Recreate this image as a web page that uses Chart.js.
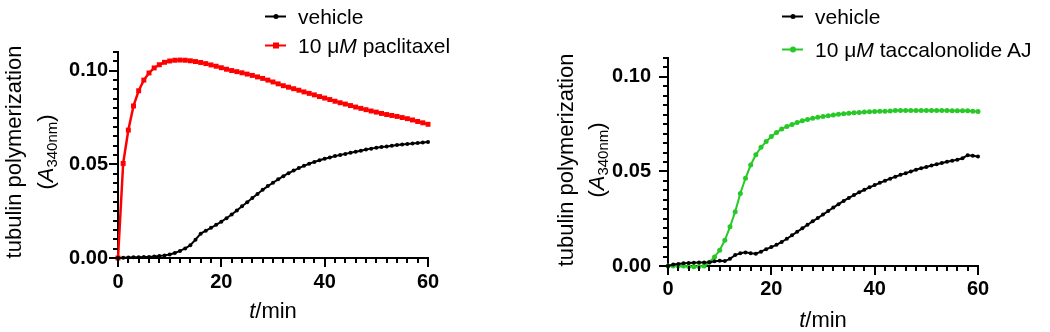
<!DOCTYPE html>
<html>
<head>
<meta charset="utf-8">
<script src="https://cdn.jsdelivr.net/npm/chart.js@4.4.1/dist/chart.umd.min.js"></script>
<style>
  html, body { margin: 0; padding: 0; background: #fff; }
  body { width: 1050px; height: 332px; position: relative; overflow: hidden;
         font-family: 'Liberation Sans', Arial, sans-serif; color: #000; }
  canvas { position: absolute; top: 0; }
  .ytitle { position: absolute; white-space: nowrap; font-size: 22px; line-height: 1;
            transform: translate(-50%, -50%) rotate(-90deg); }
  .ytitle sub { font-size: 15px; vertical-align: -4px; }
  .xtitle { position: absolute; white-space: nowrap; font-size: 22px; line-height: 1;
            transform: translate(-50%, -50%); }
  .leg { position: absolute; font-size: 21px; line-height: 1; white-space: nowrap;
         display: flex; align-items: center; transform: translateY(-50%); }
  .sw { position: relative; width: 21px; height: 2px; margin-right: 12px; }
  .sw i { position: absolute; left: 50%; top: 50%; transform: translate(-50%, -50%); }
</style>
</head>
<body>
<canvas id="chartLeft" width="525" height="332" style="left:0"></canvas>
<canvas id="chartRight" width="525" height="332" style="left:525px"></canvas>

<!-- llegendes i títols dels eixos -->
<div class="leg" style="left:265px; top:16px"><span class="sw" style="background:#000"><i style="width:5px;height:5px;border-radius:50%;background:#000"></i></span>vehicle</div>
<div class="leg" style="left:265px; top:45px"><span class="sw" style="background:#ff0000"><i style="width:6px;height:6px;background:#ff0000"></i></span>10 μ<em>M</em>&nbsp;paclitaxel</div>
<div class="leg" style="left:782px; top:16px"><span class="sw" style="background:#000"><i style="width:5px;height:5px;border-radius:50%;background:#000"></i></span>vehicle</div>
<div class="leg" style="left:782px; top:49px"><span class="sw" style="background:#27c927"><i style="width:6px;height:6px;border-radius:50%;background:#27c927"></i></span>10 μ<em>M</em>&nbsp;taccalonolide AJ</div>

<div class="ytitle" style="left:14px; top:152px">tubulin polymerization</div>
<div class="ytitle" style="left:47px; top:152px">(<em>A</em><sub>340nm</sub>)</div>
<div class="ytitle" style="left:566px; top:160px">tubulin polymerization</div>
<div class="ytitle" style="left:598px; top:160px">(<em>A</em><sub>340nm</sub>)</div>
<div class="xtitle" style="left:273px; top:311px"><em>t</em>/min</div>
<div class="xtitle" style="left:823px; top:320px"><em>t</em>/min</div>

<script>
// 1. DADES (minuts i absorbància a 340 nm)
const minutes = [0, 1, 2, 3, 4, 5, 6, 7, 8, 9, 10, 11, 12, 13, 14, 15, 16, 17, 18, 19, 20,
  21, 22, 23, 24, 25, 26, 27, 28, 29, 30, 31, 32, 33, 34, 35, 36, 37, 38, 39, 40,
  41, 42, 43, 44, 45, 46, 47, 48, 49, 50, 51, 52, 53, 54, 55, 56, 57, 58, 59, 60];

// panell esquerre
const vehicleLeft = [0.0000, 0.0002, 0.0003, 0.0004, 0.0004, 0.0005, 0.0006, 0.0008, 0.0011, 0.0014,
  0.0019, 0.0027, 0.0038, 0.0051, 0.0068, 0.0098, 0.0130, 0.0146, 0.0161, 0.0177,
  0.0194, 0.0212, 0.0232, 0.0254, 0.0276, 0.0298, 0.0320, 0.0342, 0.0364, 0.0384,
  0.0402, 0.0420, 0.0437, 0.0453, 0.0467, 0.0480, 0.0492, 0.0503, 0.0513, 0.0522,
  0.0530, 0.0537, 0.0544, 0.0550, 0.0556, 0.0562, 0.0567, 0.0573, 0.0579, 0.0584,
  0.0589, 0.0593, 0.0596, 0.0600, 0.0603, 0.0606, 0.0609, 0.0611, 0.0614, 0.0617, 0.0619];
const paclitaxel = [0.0000, 0.0505, 0.0683, 0.0812, 0.0893, 0.0950, 0.0988, 0.1015, 0.1032, 0.1045,
  0.1052, 0.1056, 0.1057, 0.1056, 0.1053, 0.1049, 0.1044, 0.1038, 0.1031, 0.1024,
  0.1016, 0.1008, 0.1001, 0.0995, 0.0989, 0.0982, 0.0975, 0.0967, 0.0959, 0.0950,
  0.0940, 0.0930, 0.0920, 0.0912, 0.0904, 0.0896, 0.0887, 0.0879, 0.0871, 0.0862,
  0.0854, 0.0846, 0.0837, 0.0829, 0.0822, 0.0814, 0.0806, 0.0799, 0.0792, 0.0785,
  0.0779, 0.0772, 0.0766, 0.0761, 0.0756, 0.0750, 0.0744, 0.0737, 0.0729, 0.0722, 0.0714];

// panell dret
const vehicleRight = [0.0000, 0.0008, 0.0011, 0.0014, 0.0016, 0.0017, 0.0018, 0.0018, 0.0020, 0.0025,
  0.0028, 0.0026, 0.0038, 0.0058, 0.0067, 0.0072, 0.0068, 0.0065, 0.0076, 0.0089,
  0.0100, 0.0112, 0.0127, 0.0144, 0.0162, 0.0181, 0.0199, 0.0218, 0.0236, 0.0254,
  0.0272, 0.0291, 0.0309, 0.0327, 0.0344, 0.0360, 0.0375, 0.0390, 0.0403, 0.0416,
  0.0428, 0.0440, 0.0451, 0.0462, 0.0472, 0.0482, 0.0491, 0.0500, 0.0509, 0.0517,
  0.0524, 0.0531, 0.0538, 0.0545, 0.0551, 0.0557, 0.0562, 0.0570, 0.0586, 0.0583, 0.0579];
const taccalonolide = [0.0000, 0.0000, 0.0000, 0.0000, -0.0003, -0.0004, -0.0003, 0.0000, 0.0020, 0.0048,
  0.0083, 0.0136, 0.0207, 0.0287, 0.0384, 0.0464, 0.0534, 0.0588, 0.0628, 0.0658,
  0.0685, 0.0706, 0.0724, 0.0738, 0.0748, 0.0759, 0.0768, 0.0775, 0.0781, 0.0786,
  0.0791, 0.0795, 0.0799, 0.0802, 0.0805, 0.0808, 0.0810, 0.0812, 0.0814, 0.0816,
  0.0817, 0.0818, 0.0819, 0.0820, 0.0822, 0.0823, 0.0823, 0.0823, 0.0823, 0.0823,
  0.0823, 0.0823, 0.0822, 0.0822, 0.0822, 0.0821, 0.0821, 0.0821, 0.0821, 0.0819, 0.0817];

const xTicks = [0, 20, 40, 60];
const yTicks = [0, 0.05, 0.10];

const FONT = "'Liberation Sans', Arial, sans-serif";

// 2. MARQUES DELS EIXOS (majors i menors, com a GraphPad)
const tickMarks = {
  id: 'tickMarks',
  afterDatasetsDraw(chart) {
    const { ctx, chartArea: a, scales: { x, y } } = chart;
    ctx.save();
    ctx.strokeStyle = '#000';
    ctx.lineWidth = 2;
    ctx.beginPath();
    for (let m = 0; m <= 60; m += 2) {
      const px = Math.round(x.getPixelForValue(m));
      ctx.moveTo(px, a.bottom);
      ctx.lineTo(px, a.bottom + (m % 20 === 0 ? 9 : 5));
    }
    for (let k = 0; k <= 22; k++) {
      const py = Math.round(y.getPixelForValue(k * 0.005));
      ctx.moveTo(a.left, py);
      ctx.lineTo(a.left - (k % 10 === 0 ? 9 : 5), py);
    }
    ctx.stroke();
    ctx.restore();
  }
};

function serie(values, color, style, radius, width) {
  return {
    data: minutes.map((t, i) => ({ x: t, y: values[i] })),
    borderColor: color, backgroundColor: color,
    borderWidth: width, pointStyle: style, pointRadius: radius,
    pointBorderWidth: 0, tension: 0, clip: false
  };
}

// 3. GRÀFICS
function ferGrafic(id, datasets, box) {
  return new Chart(document.getElementById(id), {
    type: 'line',
    data: { datasets },
    options: {
      responsive: false,
      animation: false,
      devicePixelRatio: 1,
      layout: { padding: { top: box.top, right: box.right, left: 0, bottom: 0 } },
      plugins: { legend: { display: false }, tooltip: { enabled: false } },
      scales: {
        x: {
          type: 'linear', min: 0, max: 60,
          grid: { display: false, drawTicks: false },
          border: { display: true, color: '#000', width: 2 },
          ticks: { color: '#000', padding: box.xPad, maxRotation: 0,
                   font: { family: FONT, size: 20, weight: 'bold' } },
          afterBuildTicks: s => { s.ticks = xTicks.map(v => ({ value: v })); },
          afterFit: s => { s.height = box.xh; }
        },
        y: {
          type: 'linear', min: 0, max: 0.11,
          grid: { display: false, drawTicks: false },
          border: { display: true, color: '#000', width: 2 },
          ticks: { color: '#000', padding: box.yPad,
                   font: { family: FONT, size: 20, weight: 'bold' },
                   callback: v => v.toFixed(2) },
          afterBuildTicks: s => { s.ticks = yTicks.map(v => ({ value: v })); },
          afterFit: s => { s.width = box.yw; }
        }
      }
    },
    plugins: [tickMarks]
  });
}

ferGrafic('chartLeft', [
  serie(vehicleLeft, '#000000', 'circle', 2, 2),
  serie(paclitaxel, '#ff0000', 'rect', 3.5, 2.5)
], { top: 52, right: 97, yw: 118, xh: 74, xPad: 12, yPad: 10 });

ferGrafic('chartRight', [
  serie(vehicleRight, '#000000', 'circle', 2, 2),
  serie(taccalonolide, '#27c927', 'circle', 2.5, 2)
], { top: 58, right: 72, yw: 143, xh: 66, xPad: 11, yPad: 17 });
</script>
</body>
</html>
